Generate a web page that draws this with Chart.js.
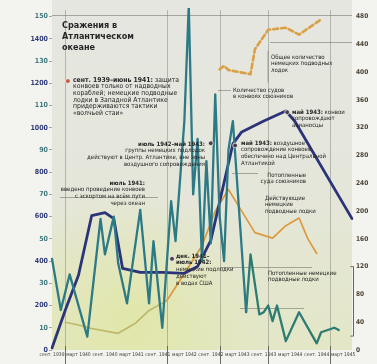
<!DOCTYPE html>
<html lang="ru">
<head>
<meta charset="utf-8">
<title>Сражения в Атлантическом океане</title>
<script src="https://cdn.jsdelivr.net/npm/chart.js@4.4.1/dist/chart.umd.min.js"></script>
<style>
  html, body { margin: 0; padding: 0; background: #f3f3ef; }
  #wrap { position: relative; width: 377px; height: 364px; }
</style>
</head>
<body>
<div id="wrap"><canvas id="chart"></canvas></div>
<script>
const FONT = '"DejaVu Sans Condensed", "DejaVu Sans", sans-serif';

// months from September 1939 to May 1945
const monthNames = ['янв.', 'февр.', 'март', 'апр.', 'май', 'июнь', 'июль', 'авг.', 'сент.', 'окт.', 'нояб.', 'дек.'];
const months = [];
for (let year = 1939; year <= 1945; year++) {
    monthNames.forEach((name, m) => {
        if ((year === 1939 && m < 8) || (year === 1945 && m > 4)) return;
        months.push(name + ' ' + year);
    });
}

// Allied ships sunk per month (left scale)
const shipsSunk = [
    41, null, 18, null,                                               // 1939
    34, null, null, null, 6, null, null, 59, 43, null, 60, 39,        // 1940
    null, 21, null, null, 63, null, 21, 49, null, 10, null, 67,       // 1941
    49, null, 103, 155, 70, 95, 40, 85, 48, 115, 60, 40,              // 1942
    90, 103, null, null, 17, null, null, null, null, null, null, null, // 1943
    null, null, null, null, null, null, null, null, null, null, null, null,
    null, null, null, null, null
];

// German U-boats sunk per month (left scale)
const uboatsSunk = [
    null, null, null, null,
    null, null, null, null, null, null, null, null, null, null, null, null,
    null, null, null, null, null, null, null, null, null, null, null, null,
    null, null, null, null, null, null, null, null, null, null, null, null,
    null, null, null, null, 17, 43, null, 16, 17, 20, 13, 20,         // 1943
    null, 4, null, null, 17, null, null, null, 3, 8, null, null,      // 1944
    10, 9, null, null, null                                           // 1945
];

// ships in Allied convoys (left scale, labelled x10)
const convoyShips = [
    9, null, null, 179,
    null, null, 336, null, 515, 605, null, null, 618, null, 591, null,
    367, null, null, null, 349, null, null, null, null, 349, null, null,
    null, null, 345, null, null, 376, null, null, 493, null, null, null,
    null, 927, null, 981, null, null, null, null, 1030, null, null, null,
    null, 1075, null, 1030, null, null, null, null, null, null, null, null,
    null, null, null, null, 591
];

// operational U-boats (right scale)
const uboatsActive = [
    null, null, null, 40,
    null, null, 36, null, null, 31, null, null, null, null, null, 24,
    null, null, null, 39, null, null, 57, null, null, null, 71, null,
    null, 100, null, null, null, null, 150, null, null, 200, null, null,
    231, null, null, 200, null, null, 169, null, null, null, 161, null,
    null, 179, null, null, 190, null, 160, null, 139, null, null, null,
    null, null, null, null, null
];

// total U-boats in service (right scale)
const uboatsTotal = [
    null, null, null, null,
    null, null, null, null, null, null, null, null, null, null, null, null,
    null, null, null, null, null, null, null, null, null, null, null, null,
    null, null, null, null, null, null, null, null, null, null, 404, 409,
    403, null, null, null, null, 397, 433, null, null, 461, null, null,
    null, 464, null, null, 454, null, null, null, null, 476, null, null,
    null, null, null, null, null
];

const shipTicks = [10, 30, 50, 70, 90, 110, 130, 150];
const convoyTicks = [200, 400, 600, 800, 1000, 1200, 1400];
const rightTicks = [0, 40, 80, 120, 160, 200, 240, 280, 320, 360, 400, 440, 480];
const phaseMarks = ['дек. 1939', 'нояб. 1941', 'нояб. 1942', 'окт. 1943', 'дек. 1944'];

// event markers: month position and left-scale value
const markerAt = [3.6, 27.2, 36, 41.5, 53.3];
const markerValue = [121, 41, 93, 92, 107];

const CONVOY_RATIO = 10;
const LEFT_MAX = 153.9;
const RIGHT_MAX = 492.5;

const notes = [
    { x: 62, y: 26, size: 9, lh: 11, bold: true, lines: ['Сражения в', 'Атлантическом', 'океане'] },
    { x: 73, y: 80, size: 6.8, lh: 6.6, lines: [['сент. 1939–июнь 1941:', ' защита'], 'конвоев только от надводных', 'кораблей; немецкие подводные', 'лодки в Западной Атлантике', 'придерживаются тактики', '«волчьей стаи»'] },
    { x: 205, y: 144, align: 'right', lines: [['июль 1942–май 1943:', ''], 'группы немецких подлодок', 'действуют в Центр. Атлантике, вне зоны', 'воздушного сопровождения'] },
    { x: 145, y: 183, align: 'right', lines: [['июль 1941:', ''], 'введено проведение конвоев', 'с эскортом на всём пути', 'через океан'] },
    { x: 176, y: 256, lines: [['дек. 1941–', ''], ['июль 1942:', ''], 'немецкие подлодки', 'действуют', 'в водах США'] },
    { x: 241, y: 143, lines: [['май 1943:', ' воздушное'], 'сопровождение конвоев', 'обеспечено над Центральной', 'Атлантикой'] },
    { x: 292, y: 112, lines: [['май 1943:', ' конвои'], 'сопровождают', 'авианосцы'] },
    { x: 233, y: 90, lines: ['Количество судов', 'в конвоях союзников'] },
    { x: 271, y: 57, lines: ['Общее количество', 'немецких подводных', 'лодок'] },
    { x: 306, y: 175, align: 'right', lines: ['Потопленные', 'суда союзников'] },
    { x: 265, y: 198, lines: ['Действующие', 'немецкие', 'подводные лодки'] },
    { x: 268, y: 273, lines: ['Потопленные немецкие', 'подводные лодки'] }
];

// thin guide and leader lines
const guides = [
    [52, 15, 352, 15], [270, 42, 352, 42], [218, 90, 231, 90], [268, 50, 268, 82],
    [232, 173, 258, 173], [60, 197, 158, 197], [220, 267, 312, 267], [240, 308, 304, 308]
];

const backdrop = {
    id: 'backdrop',
    beforeDraw(chart) {
        const { ctx, chartArea: a, width, height } = chart;
        ctx.save();
        ctx.fillStyle = '#f3f3ef';
        ctx.fillRect(0, 0, width, height);
        const g = ctx.createLinearGradient(0, 0, 0, a.bottom);
        g.addColorStop(0, '#e6e6e1');
        g.addColorStop(0.55, '#e5e6da');
        g.addColorStop(1, '#e3e7c6');
        ctx.fillStyle = g;
        ctx.fillRect(a.left, 0, a.right - a.left, a.bottom);
        const r = ctx.createRadialGradient(130, 320, 5, 130, 320, 130);
        r.addColorStop(0, 'rgba(224, 230, 150, 0.6)');
        r.addColorStop(1, 'rgba(224, 230, 150, 0)');
        ctx.fillStyle = r;
        ctx.fillRect(a.left, 0, a.right - a.left, a.bottom);
        ctx.restore();
    },
    beforeDatasetsDraw(chart) {
        const { ctx, chartArea: a, height, scales } = chart;
        ctx.save();
        ctx.lineWidth = 1;
        phaseMarks.forEach(label => {
            const x = Math.round(scales.x.getPixelForValue(months.indexOf(label))) + 0.5;
            ctx.strokeStyle = 'rgba(120, 122, 110, 0.45)';
            ctx.beginPath();
            ctx.moveTo(x, 10);
            ctx.lineTo(x, a.bottom);
            ctx.stroke();
            ctx.strokeStyle = '#6a6a62';
            ctx.beginPath();
            ctx.moveTo(x, a.bottom - 4);
            ctx.lineTo(x, height);
            ctx.stroke();
        });
        ctx.strokeStyle = 'rgba(110, 110, 100, 0.55)';
        guides.forEach(([x1, y1, x2, y2]) => {
            ctx.beginPath();
            ctx.moveTo(x1, y1 + 0.5);
            ctx.lineTo(x2, y2 + 0.5);
            ctx.stroke();
        });
        // bracket for the lower part of the right scale
        const yr = scales.yRight;
        const bx = a.right + 1.5;
        ctx.strokeStyle = '#6c655a';
        ctx.beginPath();
        ctx.moveTo(bx - 3, yr.getPixelForValue(120));
        ctx.lineTo(bx, yr.getPixelForValue(120));
        ctx.lineTo(bx, yr.getPixelForValue(20));
        ctx.lineTo(bx - 3, yr.getPixelForValue(20));
        ctx.stroke();
        ctx.restore();
    }
};

function drawNote(ctx, note) {
    const size = note.size || 6;
    const lh = note.lh || 6.8;
    ctx.fillStyle = '#262626';
    ctx.textBaseline = 'middle';
    note.lines.forEach((line, k) => {
        const [boldPart, plainPart] = Array.isArray(line) ? line : (note.bold ? [line, ''] : ['', line]);
        const boldFont = `bold ${size}px ${FONT}`;
        const plainFont = `${size}px ${FONT}`;
        ctx.font = boldFont;
        const wb = ctx.measureText(boldPart).width;
        ctx.font = plainFont;
        const wp = ctx.measureText(plainPart).width;
        const x = note.align === 'right' ? note.x - wb - wp : note.x;
        const y = note.y + k * lh;
        ctx.textAlign = 'left';
        ctx.font = boldFont;
        ctx.fillText(boldPart, x, y);
        ctx.font = plainFont;
        ctx.fillText(plainPart, x + wb, y);
    });
}

const annotations = {
    id: 'annotations',
    afterDatasetsDraw(chart) {
        const { ctx, scales } = chart;
        ctx.save();
        markerAt.forEach((m, k) => {
            const x = scales.x.getPixelForValue(m);
            const y = scales.y.getPixelForValue(markerValue[k]);
            ctx.beginPath();
            ctx.arc(x, y, 2.4, 0, Math.PI * 2);
            ctx.fillStyle = k === 0 ? '#c9553c' : '#4b3a4c';
            ctx.fill();
            ctx.lineWidth = 0.8;
            ctx.strokeStyle = '#f2efe6';
            ctx.stroke();
        });
        notes.forEach(n => drawNote(ctx, n));
        ctx.restore();
    }
};

new Chart(document.getElementById('chart'), {
    type: 'line',
    data: {
        labels: months,
        datasets: [
            {
                label: 'Потопленные суда союзников',
                data: shipsSunk,
                yAxisID: 'y',
                borderColor: '#2c7a86',
                borderWidth: 2.3
            },
            {
                label: 'Потопленные немецкие подводные лодки',
                data: uboatsSunk,
                yAxisID: 'y',
                borderColor: '#2c7c72',
                borderWidth: 2.3
            },
            {
                label: 'Количество судов в конвоях союзников',
                data: convoyShips,
                yAxisID: 'yConvoy',
                borderColor: '#2b3479',
                borderWidth: 2.8
            },
            {
                label: 'Действующие немецкие подводные лодки',
                data: uboatsActive,
                yAxisID: 'yRight',
                borderColor: '#dc9a3e',
                borderWidth: 1.7,
                segment: {
                    borderColor: c => c.p0DataIndex < 26 ? '#bdb86c' : undefined
                }
            },
            {
                label: 'Общее количество немецких подводных лодок',
                data: uboatsTotal,
                yAxisID: 'yRight',
                borderColor: '#d9a046',
                borderWidth: 2.6,
                borderDash: [5, 3]
            }
        ]
    },
    options: {
        responsive: true,
        maintainAspectRatio: false,
        animation: false,
        spanGaps: true,
        layout: { padding: 0 },
        elements: {
            point: { radius: 0 },
            line: { tension: 0, borderJoinStyle: 'round', borderCapStyle: 'round' }
        },
        plugins: {
            legend: { display: false },
            tooltip: { enabled: false }
        },
        scales: {
            x: {
                type: 'category',
                offset: false,
                grid: { display: false, drawTicks: false },
                border: { display: false },
                ticks: {
                    autoSkip: false,
                    maxRotation: 0,
                    minRotation: 0,
                    padding: 2,
                    color: '#3b3b3b',
                    font: { family: FONT, size: 5 },
                    callback(value) {
                        const label = this.getLabelForValue(value);
                        return (label.startsWith('март') || label.startsWith('сент')) ? label : null;
                    }
                },
                afterFit(scale) { scale.height = 14; }
            },
            y: {
                position: 'left',
                min: 0,
                max: LEFT_MAX,
                afterBuildTicks(scale) {
                    const values = [0, ...shipTicks, ...convoyTicks.map(v => v / CONVOY_RATIO)];
                    scale.ticks = values.sort((a, b) => a - b).map(v => ({ value: v }));
                },
                grid: { drawOnChartArea: false, tickLength: 3, color: 'rgba(90, 90, 90, 0.5)' },
                border: { display: false },
                ticks: {
                    padding: 1,
                    font: { family: FONT, size: 7, weight: 'bold' },
                    color: c => shipTicks.includes(c.tick.value) ? '#3f7a7c' : '#2e3a78',
                    callback: v => v === 0 ? '0' : shipTicks.includes(v) ? String(v) : String(v * CONVOY_RATIO)
                },
                afterFit(scale) { scale.width = 52; }
            },
            yConvoy: {
                display: false,
                min: 0,
                max: LEFT_MAX * CONVOY_RATIO
            },
            yRight: {
                position: 'right',
                min: 0,
                max: RIGHT_MAX,
                afterBuildTicks(scale) {
                    scale.ticks = rightTicks.map(v => ({ value: v }));
                },
                grid: { display: false, drawTicks: false },
                border: { display: false },
                ticks: {
                    padding: 4,
                    color: '#4a4234',
                    font: { family: FONT, size: 6.5, weight: 'bold' }
                },
                afterFit(scale) { scale.width = 25; }
            }
        }
    },
    plugins: [backdrop, annotations]
});
</script>
</body>
</html>
